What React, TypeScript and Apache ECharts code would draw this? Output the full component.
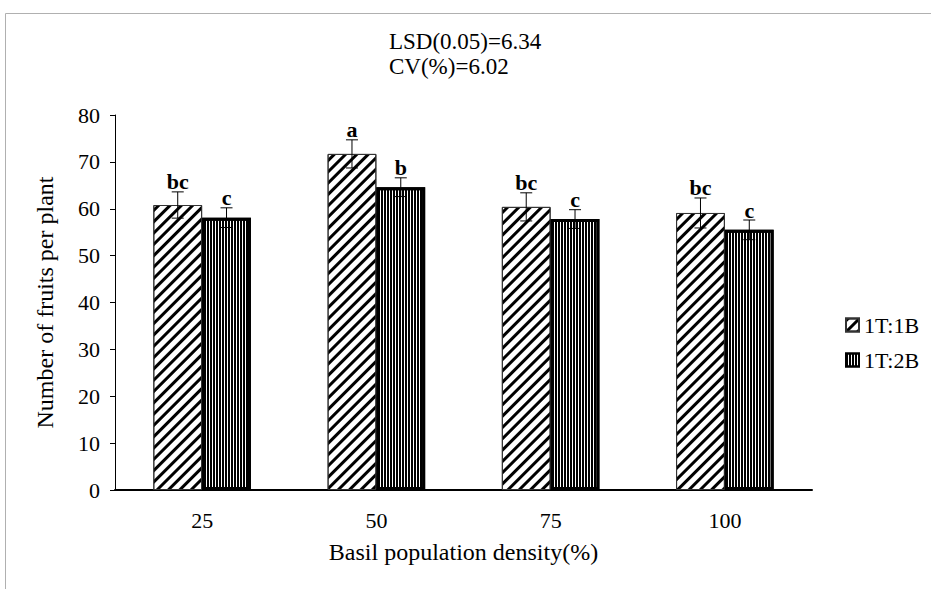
import React, { useEffect, useRef } from "react";
import * as echarts from "echarts";

const categories = ["25", "50", "75", "100"];
const series1Name = "1T:1B";
const series2Name = "1T:2B";
const values1 = [60.8, 71.7, 60.4, 59.1];
const values2 = [58.1, 64.6, 57.8, 55.5];
const errors1 = [2.8, 3.0, 3.0, 3.2];
const errors2 = [2.1, 2.0, 2.0, 2.1];
const letters1 = ["bc", "a", "bc", "bc"];
const letters2 = ["c", "b", "c", "c"];
const yTicks = { min: 0, max: 80, interval: 10 };
const annotation = ["LSD(0.05)=6.34", "CV(%)=6.02"];
const xTitle = "Basil population density(%)";
const yTitle = "Number of fruits per plant";

const FONT = "'Liberation Serif', 'Times New Roman', serif";
const CAT_GAP = 0.44;

export default function App() {
  const ref = useRef<HTMLDivElement>(null);
  useEffect(() => {
    if (!ref.current) return;
    const chart = echarts.init(ref.current, null, { renderer: "svg" });

    const makeErr = (vals: number[], errs: number[], letters: string[], side: number) => ({
      type: "custom",
      z: 10,
      silent: true,
      data: vals.map((v, i) => [i, v, errs[i]]),
      renderItem: (params: any, api: any) => {
        const idx = api.value(0);
        const v = api.value(1);
        const e = api.value(2);
        const band = api.size([1, 0])[0];
        const bw = (band * (1 - CAT_GAP)) / 2;
        const c = api.coord([idx, v]);
        const x = c[0] + (side * bw) / 2;
        const yTop = api.coord([idx, v + e])[1];
        const yBot = api.coord([idx, v - e])[1];
        const cap = 6;
        const st = { stroke: "#000", lineWidth: 1 };
        return {
          type: "group",
          children: [
            { type: "line", shape: { x1: x, y1: yTop, x2: x, y2: yBot }, style: st },
            { type: "line", shape: { x1: x - cap, y1: yTop, x2: x + cap, y2: yTop }, style: st },
            { type: "line", shape: { x1: x - cap, y1: yBot, x2: x + cap, y2: yBot }, style: st },
            {
              type: "text",
              style: {
                text: letters[idx],
                x: x,
                y: yTop + 1,
                align: "center",
                verticalAlign: "bottom",
                font: `bold 22px ${FONT}`,
                fill: "#000",
              },
            },
          ],
        };
      },
    });

    chart.setOption({
      animation: false,
      backgroundColor: "#fff",
      textStyle: { fontFamily: FONT },
      graphic: [
        {
          type: "rect",
          shape: { x: 5.5, y: 13.5, width: 960, height: 620 },
          style: { fill: "none", stroke: "#b0b0b0", lineWidth: 1 },
          silent: true,
        },
        {
          type: "text",
          left: 389,
          top: 30,
          style: { text: annotation[0], font: `23px ${FONT}`, fill: "#000" },
        },
        {
          type: "text",
          left: 389,
          top: 55,
          style: { text: annotation[1], font: `23px ${FONT}`, fill: "#000" },
        },
      ],
      legend: {
        orient: "vertical",
        left: 840,
        top: 309,
        icon: "rect",
        itemWidth: 13,
        itemHeight: 13,
        itemGap: 13,
        textStyle: { fontFamily: FONT, fontSize: 22, color: "#000" },
        data: [series1Name, series2Name],
      },
      grid: { left: 115, right: 119, top: 115, bottom: 99 },
      xAxis: {
        type: "category",
        data: categories,
        name: xTitle,
        nameLocation: "middle",
        nameGap: 50,
        nameTextStyle: { fontFamily: FONT, fontSize: 24, color: "#000" },
        axisLine: { lineStyle: { color: "#000", width: 2 } },
        axisTick: { show: false },
        axisLabel: { fontFamily: FONT, fontSize: 22, color: "#000", margin: 19 },
      },
      yAxis: {
        type: "value",
        min: yTicks.min,
        max: yTicks.max,
        interval: yTicks.interval,
        name: yTitle,
        nameLocation: "middle",
        nameGap: 58,
        nameTextStyle: { fontFamily: FONT, fontSize: 24, color: "#000" },
        axisLine: { show: true, lineStyle: { color: "#000", width: 1 } },
        axisTick: { show: true, length: 5, lineStyle: { color: "#000" } },
        axisLabel: { fontFamily: FONT, fontSize: 22, color: "#000", margin: 15 },
        splitLine: { show: false },
      },
      series: [
        {
          name: series1Name,
          type: "bar",
          data: values1,
          barGap: "0%",
          barCategoryGap: `${CAT_GAP * 100}%`,
          itemStyle: {
            color: "#fff",
            borderColor: "#333",
            borderWidth: 1,
            decal: {
              symbol: "rect",
              symbolSize: 1,
              color: "#000",
              dashArrayX: [1, 0],
              dashArrayY: [2.5, 4.5],
              rotation: -Math.PI / 4,
            },
          },
        },
        {
          name: series2Name,
          type: "bar",
          data: values2,
          barGap: "0%",
          barCategoryGap: `${CAT_GAP * 100}%`,
          itemStyle: {
            color: "#fff",
            borderColor: "#000",
            borderWidth: 3,
            decal: {
              symbol: "rect",
              symbolSize: 1,
              color: "#000",
              dashArrayX: [2, 1],
              dashArrayY: [1, 0],
              rotation: 0,
            },
          },
        },
        makeErr(values1, errors1, letters1, -1),
        makeErr(values2, errors2, letters2, 1),
      ],
    });
    return () => chart.dispose();
  }, []);
  return (
    <div
      ref={ref}
      style={{ position: "fixed", left: 0, top: 0, width: 931, height: 589 }}
    />
  );
}
